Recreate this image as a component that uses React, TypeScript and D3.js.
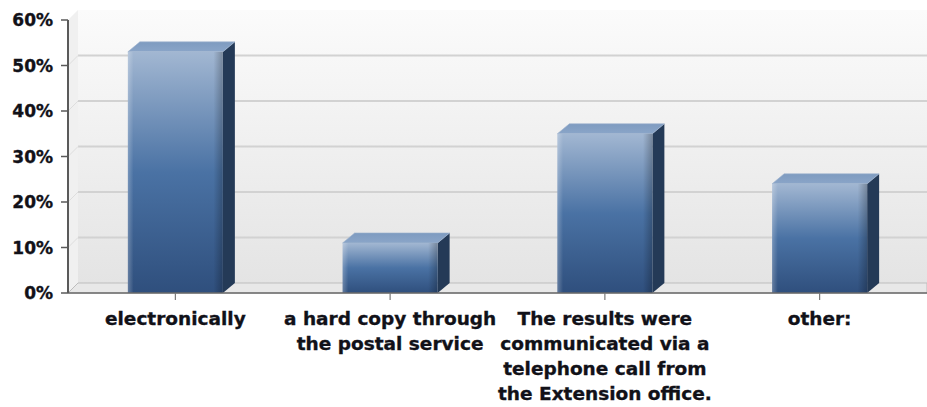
import React from "react";
import * as d3 from "d3";

const categories = ["electronically", "a hard copy through the postal service", "The results were communicated via a telephone call from the Extension office.", "other:"];
const categoryLines = [
  ["electronically"],
  ["a hard copy through", "the postal service"],
  ["The results were", "communicated via a", "telephone call from", "the Extension office."],
  ["other:"],
];
const values = [0.53, 0.11, 0.35, 0.24];
const yTicks = [0, 0.1, 0.2, 0.3, 0.4, 0.5, 0.6];

const W = 927;
const H = 407;
const left = 68;
const right = 927;
const top = 20;
const bottom = 293;
const wallDx = 10;
const wallDy = 10;
const barDx = 12;
const barDy = 10;
const FONT = "'DejaVu Sans', Verdana, sans-serif";

export default function App() {
  const x = d3.scaleBand<number>().domain(d3.range(categories.length)).range([left, right]).paddingInner(0.5576).paddingOuter(0.2788);
  const y = d3.scaleLinear().domain([0, 0.6]).range([bottom, top]);
  const fmt = d3.format(".0%");
  const bw = x.bandwidth();

  return (
    <svg width={W} height={H} style={{ position: "absolute", left: 0, top: 0, background: "#fff" }}>
      <defs>
        <linearGradient id="wall" x1="0" y1="0" x2="0" y2="1">
          <stop offset="0" stopColor="#fbfbfb" />
          <stop offset="1" stopColor="#e4e4e4" />
        </linearGradient>
        <linearGradient id="front" x1="0" y1="0" x2="0" y2="1">
          <stop offset="0" stopColor="#a2b7d2" />
          <stop offset="0.5" stopColor="#4a72a4" />
          <stop offset="1" stopColor="#2f4f7d" />
        </linearGradient>
        <linearGradient id="bevel" x1="0" y1="0" x2="1" y2="0">
          <stop offset="0" stopColor="#ffffff" stopOpacity="0.25" />
          <stop offset="0.06" stopColor="#ffffff" stopOpacity="0" />
          <stop offset="0.9" stopColor="#000000" stopOpacity="0" />
          <stop offset="1" stopColor="#000000" stopOpacity="0.25" />
        </linearGradient>
        <linearGradient id="topFace" x1="0" y1="0" x2="0" y2="1">
          <stop offset="0" stopColor="#7e9bc0" />
          <stop offset="1" stopColor="#8aa5c8" />
        </linearGradient>
      </defs>

      {/* back wall */}
      <rect x={left + wallDx} y={top - wallDy} width={right - left - wallDx} height={bottom - top} fill="url(#wall)" />
      {/* left wall */}
      <polygon
        points={`${left},${top} ${left + wallDx},${top - wallDy} ${left + wallDx},${bottom - wallDy} ${left},${bottom}`}
        fill="#f0f0f0"
      />
      {/* floor */}
      <polygon
        points={`${left},${bottom} ${left + wallDx},${bottom - wallDy} ${right},${bottom - wallDy} ${right},${bottom}`}
        fill="#e8e8e8"
        stroke="#bdbdbd"
        strokeWidth={1}
      />

      {/* gridlines */}
      {yTicks.filter((t) => t > 0 && t < 0.6).map((t) => (
        <g key={`g${t}`}>
          <line x1={left + wallDx} x2={right} y1={y(t) - wallDy} y2={y(t) - wallDy} stroke="#d2d2d2" strokeWidth={2} />
          <line x1={left} x2={left + wallDx} y1={y(t)} y2={y(t) - wallDy} stroke="#dedede" strokeWidth={1} />
        </g>
      ))}

      {/* bars */}
      {values.map((v, i) => {
        const x0 = x(i)!;
        const x1 = x0 + bw;
        const yt = y(v);
        const y0 = y(0);
        return (
          <g key={`b${i}`}>
            <polygon
              points={`${x1},${yt} ${x1 + barDx},${yt - barDy} ${x1 + barDx},${y0 - barDy} ${x1},${y0}`}
              fill="#243a57"
            />
            <polygon
              points={`${x0},${yt} ${x0 + barDx},${yt - barDy} ${x1 + barDx},${yt - barDy} ${x1},${yt}`}
              fill="url(#topFace)"
              stroke="#9fb4cf"
              strokeWidth={0.6}
            />
            <rect x={x0} y={yt} width={bw} height={y0 - yt} fill="url(#front)" />
            <rect x={x0} y={yt} width={bw} height={y0 - yt} fill="url(#bevel)" />
          </g>
        );
      })}

      {/* x axis line */}
      <line x1={left} x2={right} y1={bottom} y2={bottom} stroke="#6a6a6a" strokeWidth={1.5} />
      {categories.map((c, i) => {
        const cx = x(i)! + bw / 2;
        return (
          <g key={`x${i}`}>
            <line x1={cx} x2={cx} y1={bottom} y2={bottom + 7} stroke="#7a7a7a" strokeWidth={1.2} />
            <text textAnchor="middle" fontFamily={FONT} fontWeight="bold" fontSize={18.5} fill="#111118" stroke="#111118" strokeWidth={0.35}>
              {categoryLines[i].map((ln, k) => (
                <tspan key={k} x={cx} y={325 + k * 25}>{ln}</tspan>
              ))}
            </text>
          </g>
        );
      })}

      {/* y axis */}
      <line x1={left} x2={left} y1={top} y2={bottom} stroke="#5a5a5a" strokeWidth={2} />
      {yTicks.map((t) => (
        <g key={`y${t}`}>
          <line x1={left - 7} x2={left} y1={y(t)} y2={y(t)} stroke="#5a5a5a" strokeWidth={1.5} />
          <text x={53} y={y(t)} dy="0.36em" textAnchor="end" fontFamily={FONT} fontWeight="bold" fontSize={17} fill="#111118" stroke="#111118" strokeWidth={0.35}>
            {fmt(t)}
          </text>
        </g>
      ))}
    </svg>
  );
}
